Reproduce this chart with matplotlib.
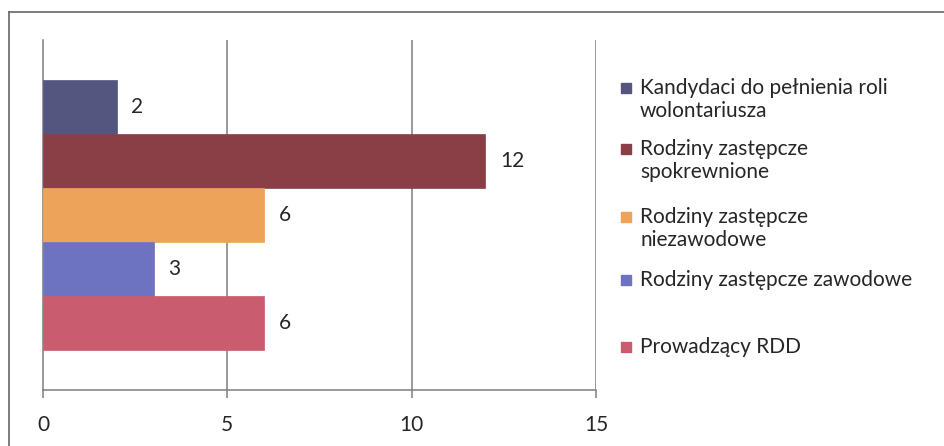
import matplotlib
matplotlib.use("Agg")
import matplotlib.pyplot as plt
from matplotlib.patches import Rectangle
from matplotlib.lines import Line2D

labels = ["Kandydaci do pełnienia roli\nwolontariusza",
          "Rodziny zastępcze\nspokrewnione",
          "Rodziny zastępcze\nniezawodowe",
          "Rodziny zastępcze zawodowe",
          "Prowadzący RDD"]
values = [2, 12, 6, 3, 6]
colors = ["#55567f", "#8a3f47", "#eda45a", "#6d73c0", "#c95c6e"]
xticks = [0, 5, 10, 15]

W, H = 944, 446
plt.rcParams['font.family'] = ['Lato', 'DejaVu Sans']
fig = plt.figure(figsize=(W / 100, H / 100), dpi=100)

def fx(px):
    return px / W

def fy(py):
    return 1 - py / H

# outer frame (top and left visible)
fig.add_artist(Line2D([fx(9), 1], [fy(12), fy(12)], color="#666666", lw=1.2))
fig.add_artist(Line2D([fx(9), fx(9)], [fy(12), 0], color="#666666", lw=1.2))

ax = fig.add_axes([fx(43), fy(390), fx(596) - fx(43), fy(40) - fy(390)])
n = len(values)
group = 0.77
h = group / n
grid_c = "#7f7f7f"
for i, (v, c) in enumerate(zip(values, colors)):
    yc = group / 2 - h / 2 - i * h
    ax.barh(yc, v, height=h, color=c, edgecolor=c, linewidth=0.5, zorder=3)
    ax.annotate(str(v), (v, yc), xytext=(10.5, 0), textcoords="offset points",
                ha="left", va="center", fontsize=15, color="#262626")

ax.set_xlim(0, 15)
ax.set_ylim(-0.5, 0.5)
ax.set_xticks(xticks)
ax.set_xticklabels([str(t) for t in xticks])
ax.set_yticks([])
for t in xticks[1:]:
    ax.axvline(t, color=grid_c, lw=1.1, zorder=1)
for s in ["top", "right"]:
    ax.spines[s].set_visible(False)
for s in ["left", "bottom"]:
    ax.spines[s].set_color(grid_c)
    ax.spines[s].set_linewidth(1.1)
ax.tick_params(axis="x", direction="out", length=6, width=1.1, color=grid_c,
               pad=12, labelsize=15, labelcolor="#262626")
ax.patch.set_alpha(0)

# legend (manual, Excel-like placement)
leg_y = [88, 149, 217, 280, 347]
for lab, c, y0 in zip(labels, colors, leg_y):
    fig.add_artist(Rectangle((fx(621), fy(y0 + 5)), fx(10), fy(y0 - 5) - fy(y0 + 5),
                             facecolor=c, edgecolor=c, transform=fig.transFigure))
    for j, line in enumerate(lab.split("\n")):
        fig.text(fx(640), fy(y0 + j * 23), line, ha="left", va="center",
                 fontsize=15, color="#262626")

fig.savefig("out.png", dpi=100)
